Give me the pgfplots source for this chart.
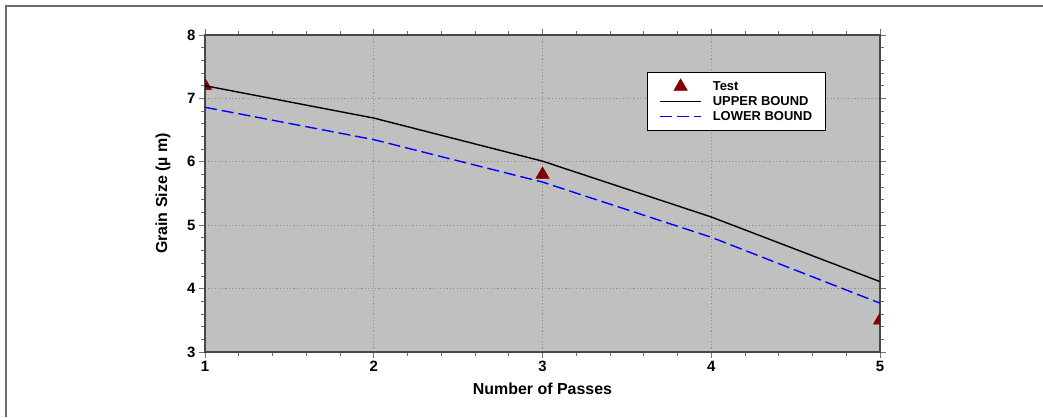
\documentclass[border=0pt]{standalone}
\usepackage{pgfplots}
\pgfplotsset{compat=1.18}
\usepackage{fontspec}
\setmainfont{Liberation Sans}
\definecolor{bggray}{HTML}{C0C0C0}
\definecolor{gridgray}{HTML}{909090}
\definecolor{axgray}{HTML}{484848}
\definecolor{tickgray}{HTML}{707070}
\definecolor{framegray}{HTML}{6C6C6C}
\definecolor{testred}{HTML}{800000}
\pgfplotsset{
  lineleg/.style={legend image code/.code={\draw[##1] (2bp,0bp) -- (43bp,0bp);}},
  markleg/.style={legend image code/.code={\path (2bp,0bp) (43bp,0bp);\draw[##1] plot coordinates {(22.5bp,0bp)};}},
}
\begin{document}
\begin{tikzpicture}[x=1bp,y=1bp]
\useasboundingbox (0,0) rectangle (1043,417);
\draw[framegray, line width=1.6bp] (6,0) -- (6,411) -- (1043,411);
\begin{axis}[
  at={(205bp,65bp)}, anchor=south west,
  scale only axis, width=675bp, height=317bp,
  xmin=1, xmax=5, ymin=3, ymax=8,
  xtick={1,2,3,4,5}, ytick={3,4,5,6,7,8},
  minor tick num=4,
  tick align=outside,
  major tick length=6bp, minor tick length=4bp,
  every tick/.style={tickgray, line width=0.8bp},
  axis line style={axgray, line width=1.4bp},
  axis background/.style={fill=bggray},
  grid=major,
  major grid style={gridgray, line width=0.8bp, dash pattern=on 1.2bp off 2.2bp},
  clip marker paths=true,
  /pgf/number format/assume math mode=true,
  ticklabel style={font=\bfseries\fontsize{15}{15}\selectfont},
  xlabel={Number of Passes},
  ylabel={Grain Size (µ m)},
  label style={font=\bfseries\fontsize{16}{16}\selectfont},
  xlabel style={at={(axis description cs:0.5,-0.1325)}, anchor=base},
  ylabel style={at={(axis description cs:-0.0622,0.5)}, anchor=center},
  legend style={at={(axis description cs:0.655,0.883)}, anchor=north west,
    fill=white, draw=black, line width=0.6bp,
    font=\bfseries\fontsize{13}{13}\selectfont,
    inner xsep=12bp, inner ysep=6.5bp, row sep=0bp,
    nodes={inner sep=1bp, text height=10bp, text depth=3bp},
    /tikz/every odd column/.append style={column sep=10bp}},
  legend cell align=left,
]
\addplot[only marks, mark=triangle*, mark size=7.7bp, testred, markleg]
  coordinates {(1,7.2) (3,5.8) (5,3.5)};
\addlegendentry{Test}
\addplot[black, line width=1.4bp, no marks, lineleg]
  coordinates {(1,7.2) (2,6.69) (3,6.01) (4,5.13) (5,4.11)};
\addlegendentry{UPPER BOUND}
\addplot[blue, line width=1.4bp, no marks, dash pattern=on 12bp off 5bp, lineleg]
  coordinates {(1,6.86) (2,6.35) (3,5.68) (4,4.81) (5,3.77)};
\addlegendentry{LOWER BOUND}
\end{axis}
\end{tikzpicture}
\end{document}
